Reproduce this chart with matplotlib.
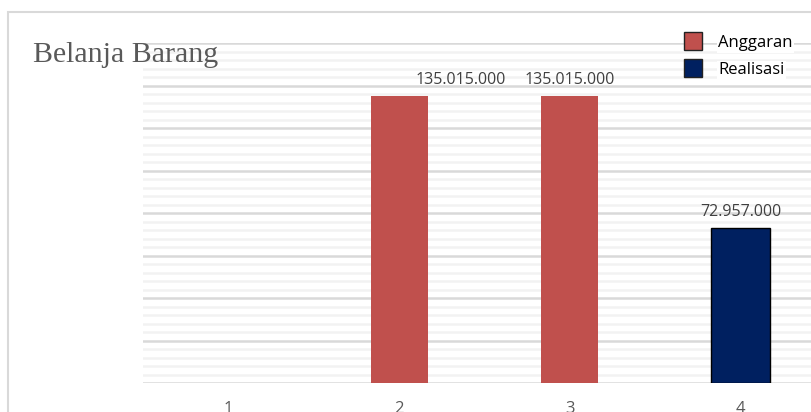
import numpy as np
import matplotlib.pyplot as plt
from matplotlib.patches import Rectangle
from matplotlib.lines import Line2D

categories = ["1", "2", "3", "4"]
anggaran = [np.nan, 135015000, 135015000, np.nan]
realisasi = [np.nan, np.nan, np.nan, 72957000]
labels = ["Anggaran", "Realisasi"]
title = "Belanja Barang"

red = "#C0504D"
blue = "#002060"

W, H = 811, 412
fig = plt.figure(figsize=(W / 100, H / 100), dpi=100)
# plot area runs past the right edge like the cropped original
ax = fig.add_axes([143 / W, (H - 383) / H, (826 - 143) / W, 340 / H])

x = np.arange(1, len(categories) + 1)
ax.bar(x, anggaran, width=0.333, color=red, zorder=3)
ax.bar(x, realisasi, width=0.345, color=blue, edgecolor="black", linewidth=1, zorder=3)

def fmt(v):
    return f"{int(v):,}".replace(",", ".")

# first label sits a bit to the right, as in the original
shifts = [0, 44, 0, 0]
for xi, v, dx in zip(x, anggaran, shifts):
    if not np.isnan(v):
        ax.annotate(fmt(v), (xi, v), xytext=(dx, 6), textcoords="offset points",
                    ha="center", va="bottom", fontsize=11.5, color="#404040",
                    family="Open Sans", zorder=4)
for xi, v in zip(x, realisasi):
    if not np.isnan(v):
        ax.annotate(fmt(v), (xi, v), xytext=(0, 6), textcoords="offset points",
                    ha="center", va="bottom", fontsize=11.5, color="#404040",
                    family="Open Sans", zorder=4)

ax.set_xlim(0.5, 4.5)
ax.set_ylim(0, 160000000)
ax.set_yticks(np.arange(0, 160000001, 20000000))
ax.set_yticks(np.arange(0, 160000001, 4000000), minor=True)
ax.grid(axis="y", which="minor", color="#f2f2f2", linewidth=1.8, zorder=0)
ax.grid(axis="y", which="major", color="#d9d9d9", linewidth=1.8, zorder=1)
ax.tick_params(axis="y", which="both", left=False, labelleft=False)
ax.set_xticks(x)
ax.set_xticklabels(categories, fontsize=12, color="#595959", family="Open Sans")
ax.tick_params(axis="x", length=0, pad=13)
for s in ax.spines.values():
    s.set_visible(False)
ax.set_facecolor("none")

fig.text(33 / W, 1 - 62 / H, title, fontsize=21.5, color="#595959",
         family="Liberation Serif", ha="left", va="baseline")

handles = [Line2D([], [], marker="s", linestyle="none", markersize=13,
                  markerfacecolor=red, markeredgecolor="#222222", markeredgewidth=1),
           Line2D([], [], marker="s", linestyle="none", markersize=13,
                  markerfacecolor=blue, markeredgecolor="#222222", markeredgewidth=1)]
leg = fig.legend(handles, labels, loc="upper left", bbox_to_anchor=(668 / W, 1 - 27 / H),
                 frameon=False, prop={"family": "Open Sans", "size": 12},
                 handletextpad=0.5, labelspacing=0.65, borderpad=0)
for t in leg.get_texts():
    t.set_bbox(dict(facecolor="white", edgecolor="none", pad=1))

fig.patches.append(Rectangle((8 / W, -0.2), 1.5, (H - 12) / H + 0.2, transform=fig.transFigure,
                             fill=False, edgecolor="#d9d9d9", linewidth=1.5))

fig.savefig("out.png", dpi=100)
